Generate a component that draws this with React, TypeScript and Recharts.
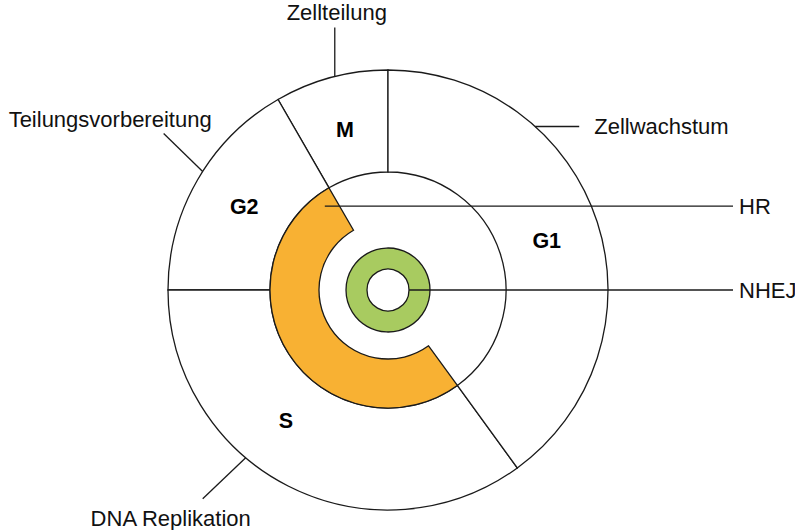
import { Cell, Pie, PieChart } from 'recharts'

// Zellzyklus: Phasen in Grad (gegen den Uhrzeigersinn ab 12 Uhr)
const phaseNames = ['M', 'G2', 'S', 'G1']
const phaseDegrees = [30, 60, 126, 144]
const phaseNotes = ['Zellteilung', 'Teilungsvorbereitung', 'DNA Replikation', 'Zellwachstum']

// Reparaturwege
const hrNames = ['HR', '']
const hrDegrees = [186, 174]
const nhejNames = ['NHEJ']
const nhejValues = [1]

const phaseData = phaseNames.map((name, i) => ({ name, value: phaseDegrees[i], note: phaseNotes[i] }))
const hrData = hrNames.map((name, i) => ({ name, value: hrDegrees[i] }))
const nhejData = nhejNames.map((name, i) => ({ name, value: nhejValues[i] }))

const CX = 388
const CY = 290
const INK = '#1a1a1a'
const FONT = "Arial, 'Liberation Sans', sans-serif"
const ORANGE = '#F8B133'
const GREEN = '#A8CB60'
const LABEL_END_X = 733

const RAD = Math.PI / 180
function polar(cx: number, cy: number, r: number, angle: number) {
  return { x: cx + r * Math.cos(-angle * RAD), y: cy + r * Math.sin(-angle * RAD) }
}

// where the leader lines of the outer notes start, and how they run
const noteLayout: Record<string, { angle: number; dx: number; dy: number; tx: number; ty: number; anchor: 'start' | 'middle' | 'end'; base: 'auto' | 'central' }> = {
  M: { angle: 104, dx: 0, dy: -49, tx: 2, ty: -57, anchor: 'middle', base: 'auto' },
  G2: { angle: 147.4, dx: -39, dy: -38, tx: 9, ty: -44, anchor: 'end', base: 'auto' },
  S: { angle: 229.7, dx: -43, dy: 41, tx: -75, ty: 68, anchor: 'middle', base: 'auto' },
  G1: { angle: 48, dx: 44, dy: 0, tx: 59, ty: 0, anchor: 'start', base: 'central' },
}
const phaseLabelShift: Record<string, number> = { S: -11, G1: -1 }

function PhaseLabel(props: any) {
  const { cx, cy, midAngle, outerRadius, name, payload } = props
  const lab = polar(cx, cy, 166, midAngle + (phaseLabelShift[name] ?? 0))
  const lay = noteLayout[name]
  const a = polar(cx, cy, outerRadius, lay.angle)
  return (
    <g>
      <text x={lab.x} y={lab.y} textAnchor="middle" dominantBaseline="central" fontFamily={FONT} fontWeight="bold" fontSize={21.5} fill="#000">
        {name}
      </text>
      <line x1={a.x} y1={a.y} x2={a.x + lay.dx} y2={a.y + lay.dy} stroke={INK} strokeWidth={1.3} />
      <text x={a.x + lay.tx} y={a.y + lay.ty} textAnchor={lay.anchor} dominantBaseline={lay.base} fontFamily={FONT} fontSize={22} fill="#111">
        {payload?.note ?? phaseNotes[phaseNames.indexOf(name)]}
      </text>
    </g>
  )
}

function HrLabel(props: any) {
  const { cx, cy, name } = props
  if (!name) return null
  const a = polar(cx, cy, 105, 127)
  return (
    <g>
      <line x1={a.x} y1={a.y} x2={LABEL_END_X} y2={a.y} stroke={INK} strokeWidth={1.3} />
      <text x={LABEL_END_X + 6} y={a.y} dominantBaseline="central" fontFamily={FONT} fontSize={22} fill="#111">
        {name}
      </text>
    </g>
  )
}

function NhejLabel(props: any) {
  const { cx, cy, outerRadius, name } = props
  const a = polar(cx, cy, outerRadius, 0)
  return (
    <g>
      <line x1={a.x} y1={a.y} x2={LABEL_END_X} y2={a.y} stroke={INK} strokeWidth={1.3} />
      <text x={LABEL_END_X + 6} y={a.y} dominantBaseline="central" fontFamily={FONT} fontSize={22} fill="#111">
        {name}
      </text>
    </g>
  )
}

export default function App() {
  return (
    <div style={{ position: 'absolute', left: 0, top: 0, width: 795, height: 530, background: '#fff' }}>
      <PieChart width={795} height={530} margin={{ top: 0, right: 0, bottom: 0, left: 0 }}>
        <Pie
          data={phaseData}
          dataKey="value"
          nameKey="name"
          cx={CX}
          cy={CY}
          innerRadius={118}
          outerRadius={220}
          startAngle={90}
          endAngle={450}
          stroke={INK}
          strokeWidth={1.3}
          label={PhaseLabel}
          labelLine={false}
          isAnimationActive={false}
        >
          {phaseData.map((d) => (
            <Cell key={d.name} fill="#fff" />
          ))}
        </Pie>
        <Pie
          data={hrData}
          dataKey="value"
          nameKey="name"
          cx={CX}
          cy={CY}
          innerRadius={69}
          outerRadius={118}
          startAngle={120}
          endAngle={480}
          label={HrLabel}
          labelLine={false}
          isAnimationActive={false}
        >
          {hrData.map((d, i) => (
            <Cell key={i} fill={i === 0 ? ORANGE : 'none'} stroke={i === 0 ? INK : 'none'} strokeWidth={1.3} />
          ))}
        </Pie>
        <Pie
          data={nhejData}
          dataKey="value"
          nameKey="name"
          cx={CX}
          cy={CY}
          innerRadius={21}
          outerRadius={42}
          startAngle={0}
          endAngle={360}
          stroke={INK}
          strokeWidth={1.3}
          label={NhejLabel}
          labelLine={false}
          isAnimationActive={false}
        >
          {nhejData.map((d) => (
            <Cell key={d.name} fill={GREEN} />
          ))}
        </Pie>
      </PieChart>
    </div>
  )
}
